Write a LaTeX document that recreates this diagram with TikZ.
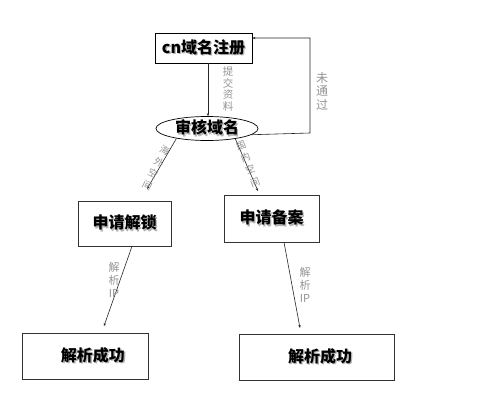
\documentclass[tikz,border=0pt]{standalone}
\usepackage{fontspec}
\setmainfont{Liberation Sans}
\newfontfamily\cjk{Noto Sans CJK SC}
\usetikzlibrary{shapes.geometric,arrows.meta}
\newcommand\shtext[1]{\makebox[0pt][l]{\kern1.4pt\raisebox{-1.4pt}{\color{black!30}#1}}#1}
\tikzset{
  boxnode/.style={draw=black, line width=0.8pt, inner sep=0pt, font=\cjk\bfseries\fontsize{16}{16}\selectfont},
  thinbox/.style={draw=black!80, line width=0.6pt, inner sep=0pt, font=\cjk\bfseries\fontsize{16}{16}\selectfont},
  lbl/.style={text=black!42, font=\cjk\fontsize{10.5}{11.5}\selectfont, align=center, inner sep=0pt},
  rlbl/.style={text=black!42, font=\cjk\fontsize{9.5}{13}\selectfont, align=center, inner sep=0pt},
  conn/.style={draw=black!85, line width=0.6pt, -{Stealth[length=3pt,width=2.4pt]}}
}
\begin{document}
\begin{tikzpicture}[x=1pt,y=-1pt]
\useasboundingbox[fill=white] (0,0) rectangle (480,400);
% nodes
\node[boxnode, minimum width=97pt, minimum height=30pt] (top) at (203.5,48) {\shtext{cn域名注册}};
\node[ellipse, draw=black, line width=0.7pt, inner sep=0pt, minimum width=102pt, minimum height=24pt, font=\cjk\bfseries\fontsize{16}{16}\selectfont] (ell) at (207,128.5) {\shtext{审核域名}};
\node[thinbox, minimum width=93pt, minimum height=45pt] (unlock) at (124.5,223.5) {\shtext{申请解锁}};
\node[thinbox, minimum width=95pt, minimum height=47pt] (record) at (271.5,218.5) {\shtext{申请备案}};
\node[thinbox, minimum width=126pt, minimum height=46pt] (okl) at (85,356) {\hspace*{16pt}\shtext{解析成功}};
\node[thinbox, minimum width=155pt, minimum height=46pt] (okr) at (316.5,357) {\hspace*{7pt}\shtext{解析成功}};
% free ends
\coordinate (c1) at (310,133);
\coordinate (c2) at (310,38);
\coordinate (e1) at (147,189);
\coordinate (e2) at (258,191);
\coordinate (e3) at (104,326);
\coordinate (e4) at (300,328);
% connectors
\draw[conn] (top.south -| 208,0) -- (ell.north -| 208,0);
\draw[conn] (ell.352) -- (c1) -- (c2) -- ([yshift=10pt]top.east);
\draw[conn] (ell.198) -- (e1);
\draw[conn] (ell.340) -- (e2);
\draw[conn] ([xshift=7.5pt]unlock.south) -- (e3);
\draw[conn] ([xshift=12.5pt]record.south) -- (e4);
% labels
\node[lbl] (l1) at (228,89) {提\\交\\资\\料};
\node[lbl, font=\cjk\fontsize{12}{13.5}\selectfont] (l2) at (322,91) {未\\通\\过};
\node[rlbl, rotate=-27] (l3) at (156,168) {海\\外\\空\\间};
\node[rlbl, rotate=21] (l4) at (248,164) {国\\内\\空\\间};
\node[lbl, font=\cjk\fontsize{11}{13}\selectfont] (l5) at (114,280) {解\\析\\IP};
\node[lbl, font=\cjk\fontsize{11}{13}\selectfont] (l6) at (305,285) {解\\析\\IP};
\end{tikzpicture}
\end{document}
